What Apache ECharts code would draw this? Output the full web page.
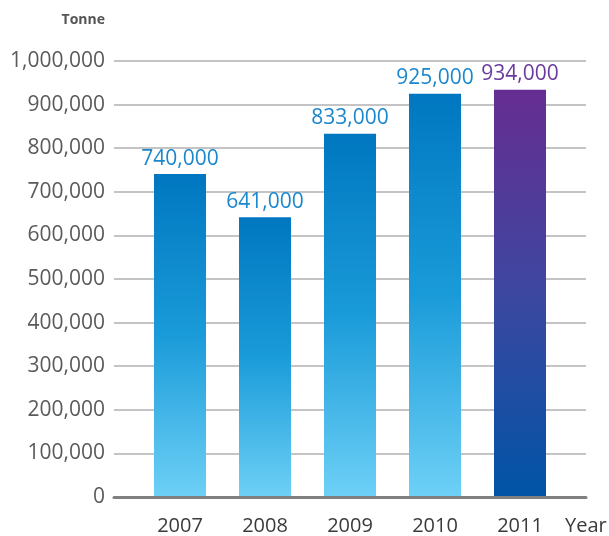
<!DOCTYPE html>
<html>
<head>
<meta charset="utf-8">
<script src="https://cdn.jsdelivr.net/npm/echarts@6/dist/echarts.min.js"></script>
<style>html,body{margin:0;padding:0;background:#fff}#c{width:609px;height:536px}</style>
</head>
<body>
<div id="c"></div>
<script>
const categories = ['2007', '2008', '2009', '2010', '2011'];
const values = [740000, 641000, 833000, 925000, 934000];
const yTicks = [0, 100000, 200000, 300000, 400000, 500000, 600000, 700000, 800000, 900000, 1000000];
const unitLabel = 'Tonne';
const xLabel = 'Year';

const blueGrad = new echarts.graphic.LinearGradient(0, 0, 0, 1, [
  {offset: 0, color: '#0077c0'},
  {offset: 0.5, color: '#1a9bd9'},
  {offset: 1, color: '#6dd0f6'}
]);
const purpleGrad = new echarts.graphic.LinearGradient(0, 0, 0, 1, [
  {offset: 0, color: '#662d91'},
  {offset: 0.5, color: '#3d47a0'},
  {offset: 1, color: '#0054a6'}
]);
const fontFam = '"Open Sans", sans-serif';

const chart = echarts.init(document.getElementById('c'));
chart.setOption({
  animation: false,
  grid: [
    {left: 137.5, right: 46.5, top: 61, bottom: 39},
    {left: 114, right: 23, top: 61, bottom: 39}
  ],
  xAxis: [
    {type: 'category', gridIndex: 0, data: categories,
     axisLine: {show: false}, axisTick: {show: false},
     axisLabel: {color: '#3a3a3a', fontSize: 20, fontFamily: fontFam, margin: 20}},
    {type: 'category', gridIndex: 1, data: categories,
     axisLine: {show: true, lineStyle: {color: '#808080', width: 3}},
     axisTick: {show: false}, axisLabel: {show: false}}
  ],
  yAxis: [
    {type: 'value', gridIndex: 0, min: yTicks[0], max: yTicks[yTicks.length - 1], interval: 100000,
     splitLine: {show: false}, axisLabel: {show: false}, axisLine: {show: false}, axisTick: {show: false}},
    {type: 'value', gridIndex: 1, min: yTicks[0], max: yTicks[yTicks.length - 1], interval: 100000,
     axisLine: {show: false}, axisTick: {show: false},
     splitLine: {lineStyle: {color: '#c4c4c6', width: 2}},
     axisLabel: {color: '#5a5a5a', fontSize: 21, fontFamily: fontFam, margin: 9,
       formatter: v => v.toLocaleString('en-US')}}
  ],
  series: [{
    type: 'bar', xAxisIndex: 0, yAxisIndex: 0, barWidth: 52, z: 3,
    data: values.map((v, i) => ({
      value: v,
      itemStyle: {color: i === values.length - 1 ? purpleGrad : blueGrad},
      label: {color: i === values.length - 1 ? '#6a3a9c' : '#1b87cc'}
    })),
    label: {show: true, position: 'top', distance: 5, fontSize: 21, fontFamily: fontFam,
      formatter: p => p.value.toLocaleString('en-US')}
  }],
  graphic: [
    {type: 'text', right: 609 - 105, top: 13, style: {text: unitLabel, fill: '#555', font: 'bold 14px ' + fontFam, textAlign: 'right'}},
    {type: 'text', left: 565, top: 516, style: {text: xLabel, fill: '#3a3a3a', font: '20px ' + fontFam}}
  ]
});
</script>
</body>
</html>
